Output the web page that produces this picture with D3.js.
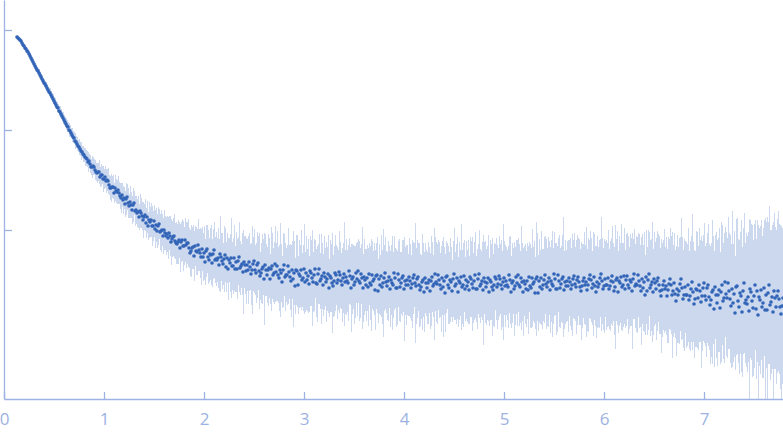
<!DOCTYPE html>
<html>
<head>
<meta charset="utf-8">
<script src="https://cdn.jsdelivr.net/npm/d3@7"></script>
<style>
html, body { margin: 0; padding: 0; background: #fff; overflow: hidden; }
</style>
</head>
<body>
<svg id="chart" width="783" height="437"></svg>
<script>
const xTicks = [0, 1, 2, 3, 4, 5, 6, 7];
const xTickLabels = ["0", "1", "2", "3", "4", "5", "6", "7"];
const yTicks = [100, 200, 300];

// intensity (arbitrary units), one value per q point, q from 0.13 in steps of 0.01
const intensity = [
    293,292,291,290,289,287,285,284,282,281,
    279,278,276,274,272,270,268,266,264,262,
    260,259,257,255,253,251,249,247,246,244,
    242,240,238,237,235,233,231,229,227,225,
    223,222,219,218,216,214,212,210,208,206,
    204,203,200,199,197,195,193,192,189,188,
    186,184,183,181,179,178,176,175,173,172,
    171,168,169,166,163,163,164,163,160,158,
    157,158,158,153,155,155,151,151,153,149,
    150,149,145,142,142,143,143,137,142,139,
    138,140,137,134,132,135,130,132,126,131,
    133,127,124,128,125,120,125,127,119,120,
    117,118,113,119,117,114,110,113,115,107,
    113,104,110,108,110,104,104,109,101,105,
    99,104,106,98,99,100,94,100,97,94,
    96,92,97,94,88,91,93,94,89,87,
    86,88,90,82,88,90,84,84,90,85,
    87,87,82,77,79,82,83,74,84,79,
    78,85,80,77,73,81,73,77,68,79,
    81,73,70,76,75,67,76,80,70,71,
    70,72,65,76,73,69,66,71,75,63,
    72,61,70,67,72,64,64,72,61,68,
    61,69,73,62,64,66,58,68,65,59,
    65,60,68,63,56,60,66,69,60,57,
    65,67,59,54,57,61,63,51,65,60,
    55,60,62,51,61,64,55,57,66,58,
    64,55,52,60,57,48,60,65,53,55,
    55,64,58,53,49,60,51,57,44,60,
    59,45,56,54,60,50,52,61,48,57,
    50,54,46,59,57,52,48,55,61,47,
    46,56,61,49,51,54,45,57,53,48,
    51,56,42,54,52,47,44,49,57,55,
    47,50,58,55,49,45,52,56,48,53,
    49,47,59,54,42,51,53,45,48,57,
    51,59,49,47,56,52,42,53,50,45,
    52,43,56,47,45,55,49,51,40,54,
    55,39,51,45,54,43,47,52,57,48,
    44,49,53,41,50,47,45,57,52,42,
    42,56,50,43,47,52,54,41,49,45,
    50,45,53,49,42,46,52,55,47,44,
    51,53,45,40,43,48,50,38,52,47,
    42,47,50,39,49,53,44,46,56,48,
    46,55,50,45,41,52,43,49,37,53,
    54,45,42,50,48,39,51,56,44,46,
    52,38,49,47,53,43,45,54,41,50,
    44,48,40,53,51,46,42,49,55,41,
    41,51,56,44,46,49,40,52,48,43,
    47,52,38,50,48,43,40,45,53,51,
    43,46,54,51,45,41,48,52,44,49,
    45,43,55,50,38,47,49,41,44,53,
    47,55,45,43,52,48,38,49,46,41,
    49,40,53,44,42,52,46,48,37,51,
    53,37,49,43,52,41,45,50,55,46,
    43,48,52,40,49,46,44,56,51,41,
    41,55,49,42,46,51,53,40,48,44,
    49,44,52,48,41,45,51,54,46,43,
    50,53,48,43,39,44,49,52,45,48,
    40,45,51,55,50,42,46,53,44,38,
    48,43,46,52,56,49,41,44,51,45,
    45,52,41,44,49,54,48,39,43,50,
    52,38,49,47,53,43,45,54,41,50,
    54,45,42,50,48,39,51,56,44,46,
    45,55,49,44,39,51,42,48,35,53,
    39,50,56,42,45,48,38,51,47,41,
    49,52,45,39,34,40,45,49,41,44,
    34,40,46,51,45,35,39,47,36,29,
    41,35,39,46,51,42,31,35,43,35,
    35,45,30,34,41,48,38,26,31,41,
    40,32,45,39,28,34,42,47,34,30,
    42,45,33,25,30,38,40,21,43,35,
    27,35,40,22,38,45,29,32,48,36,
    32,47,39,31,24,41,27,36,17,43,
    44,29,23,37,34,18,39,47,27,30,
    26,33,19,41,38,29,22,34,45,21,
    39,15,33,30,40,23,27,42,20,35,
    20,37,45,25,28,33,18,39,32,23,
    34,39,31,23,16,24,32
];

// standard deviation of each point, same units
const errors = [
    2,2,2,2,2,2,2,2,2,2,
    2,3,2,3,2,3,3,2,3,3,
    3,3,4,3,3,4,3,4,3,4,
    4,3,4,5,4,4,5,4,5,4,
    5,4,5,6,5,4,6,5,5,6,
    6,5,7,6,5,7,6,6,8,6,
    7,6,8,7,9,6,8,7,9,8,
    8,10,7,9,8,11,9,8,10,9,
    10,9,12,10,11,9,13,10,11,12,
    11,13,10,12,14,11,12,10,13,12,
    12,14,11,13,15,12,14,11,13,16,
    13,15,12,16,13,14,17,12,15,14,
    14,16,13,17,15,14,18,13,16,15,
    16,14,18,15,17,20,15,16,19,17,
    17,19,15,18,21,16,18,20,17,19,
    18,21,17,20,23,18,19,22,18,21,
    20,22,18,24,20,21,25,19,22,23,
    21,24,20,23,26,21,22,25,20,24,
    23,26,21,25,28,22,24,27,23,26,
    24,27,22,26,30,24,25,28,23,27,
    22,30,26,38,24,28,21,33,27,25,
    25,31,22,29,40,24,28,33,23,30,
    30,24,35,27,22,31,42,26,29,33,
    26,34,29,23,31,44,27,32,25,30,
    33,27,38,24,30,35,28,46,31,26,
    28,36,30,25,42,33,27,31,38,29,
    35,28,33,47,29,26,37,31,34,27,
    30,38,27,33,36,29,48,32,28,35,
    36,29,34,31,40,27,33,45,30,37,
    31,37,28,35,33,48,30,36,29,34,
    38,30,35,28,45,33,31,37,29,40,
    32,39,29,36,34,50,31,35,38,30,
    36,30,41,33,28,37,35,52,32,38,
    31,38,33,29,44,35,32,39,36,30,
    37,32,40,35,30,51,34,38,31,36,
    33,39,31,37,46,34,30,36,40,33,
    38,32,35,30,41,37,54,33,36,31,
    34,40,31,38,35,47,33,37,30,39,
    37,33,41,35,31,38,36,52,34,40,
    35,31,39,37,33,44,36,32,60,38,
    39,34,42,36,32,48,37,40,35,33,
    36,41,33,38,45,35,31,56,37,40,
    40,35,38,32,43,37,50,34,39,36,
    33,39,36,42,35,31,38,46,34,40,
    41,35,39,33,53,37,42,36,32,39,
    36,42,34,40,38,47,35,39,43,33,
    40,35,44,37,33,39,55,36,41,38,
    37,43,34,40,38,49,36,42,33,41,
    42,36,40,35,45,38,58,37,41,34,
    35,41,38,44,36,40,33,47,39,37,
    43,37,41,36,52,39,44,35,40,38,
    38,44,35,42,40,49,37,41,36,57,
    44,38,42,37,47,40,36,43,39,45,
    39,45,37,43,41,53,38,42,36,46,
    43,37,46,40,38,44,60,39,42,36,
    40,46,38,44,41,51,39,43,37,47,
    45,39,43,38,49,42,37,46,40,55,
    41,47,39,44,42,37,52,43,40,46,
    46,40,44,39,57,43,41,47,38,45,
    42,48,40,45,43,50,39,44,62,41,
    47,41,45,40,53,44,42,48,39,46,
    43,49,41,46,44,58,40,45,42,48,
    48,42,47,41,54,45,43,50,40,47,
    44,50,42,48,46,60,43,47,41,51,
    50,44,49,43,57,47,45,52,42,49,
    47,53,45,51,49,63,46,50,44,55,
    54,48,53,47,61,51,49,56,46,53,
    51,57,49,55,53,68,50,54,48,58,
    58,52,57,51,66,55,53,60,50,57,
    55,61,53,59,57,72,54,58,52,63,
    63,57,62,56,70,60,58,65,55,62,
    60,66,58,64,62,78,59,63,57,68,
    68,62,67,61,76,65,63,70,60,67,
    68,65,92,69,68,76,68,72,65,70,
    71,90,69,74,70,71,75,68,92,73,
    93,71,79,75,72,72,90,78,71,77,
    77,80,75,82,88,78,80
];

const q = intensity.map((d, i) => 0.13 + i * 0.01);

var svg = d3.select("#chart"),
    width = +svg.attr("width"),
    height = +svg.attr("height");

const axisColor = "#9db2e2";

var x = d3.scaleLinear().domain([0, 7.79]).range([4, 783]);
var y = d3.scaleLinear().domain([-69, 330]).range([399, 0]);

svg.append("defs").append("clipPath")
    .attr("id", "plot-clip")
    .append("rect")
    .attr("x", 4).attr("y", 0)
    .attr("width", width - 4).attr("height", 399);

var plot = svg.append("g").attr("clip-path", "url(#plot-clip)");

// error bars
plot.append("g")
    .attr("shape-rendering", "crispEdges")
    .selectAll("line")
    .data(q)
    .enter().append("line")
    .attr("x1", (d) => x(d))
    .attr("x2", (d) => x(d))
    .attr("y1", (d, i) => y(intensity[i] + errors[i]))
    .attr("y2", (d, i) => y(intensity[i] - errors[i]))
    .style("stroke", "#cbd8ee")
    .style("stroke-width", 1);

// points
plot.append("g")
    .selectAll("circle")
    .data(q)
    .enter().append("circle")
    .attr("cx", (d) => x(d))
    .attr("cy", (d, i) => y(intensity[i]))
    .attr("r", 1.8)
    .style("fill", "#3264b7");

// x axis
var xAxis = svg.append("g")
    .attr("transform", "translate(0,399)")
    .call(d3.axisBottom(x)
        .tickValues(xTicks)
        .tickFormat((d, i) => xTickLabels[i])
        .tickSize(-7)
        .tickSizeOuter(0));

xAxis.selectAll("text")
    .attr("y", 26)
    .attr("dy", null)
    .style("font-family", "'Open Sans', sans-serif")
    .style("font-size", "17px")
    .style("fill", axisColor);

// y axis (no labels)
var yAxis = svg.append("g")
    .attr("transform", "translate(4,0)")
    .call(d3.axisLeft(y)
        .tickValues(yTicks)
        .tickFormat("")
        .tickSize(-8)
        .tickSizeOuter(0));

svg.selectAll(".domain, .tick line")
    .style("stroke", axisColor)
    .style("stroke-width", 1.3);
</script>
</body>
</html>
